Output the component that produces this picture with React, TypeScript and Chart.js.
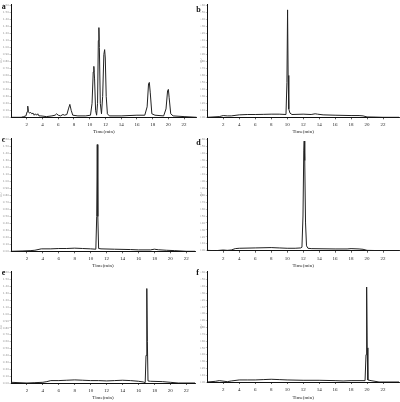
import React, { useEffect, useRef } from 'react';
import { Chart, registerables } from 'chart.js';

Chart.register(...registerables);

type Pt = [number, number];

// Chromatogram traces: [time (min), signal]
const sampleA: Pt[] = [
  [0, 0.0], [1.3, 0.0], [1.6, 0.01], [1.9, 0.02], [2.05, 0.08], [2.13, 0.16], [2.22, 0.08],
  [2.35, 0.06], [2.5, 0.07], [2.65, 0.05], [2.8, 0.06], [2.95, 0.03], [3.1, 0.05], [3.25, 0.03],
  [3.4, 0.05], [3.55, 0.02], [3.8, 0.02], [4.5, 0.01], [5.2, 0.02], [5.6, 0.03], [5.8, 0.05],
  [6.0, 0.03], [6.3, 0.02], [6.6, 0.04], [6.8, 0.03], [7.1, 0.04], [7.3, 0.12], [7.48, 0.185],
  [7.65, 0.1], [7.85, 0.03], [8.5, 0.02], [9.5, 0.02], [10.1, 0.03], [10.3, 0.2], [10.45, 0.65],
  [10.53, 0.73], [10.62, 0.55], [10.75, 0.1], [10.88, 0.03], [11.0, 0.2], [11.1, 1.1], [11.17, 1.286],
  [11.23, 1.0], [11.35, 0.2], [11.5, 0.05], [11.65, 0.3], [11.8, 0.9], [11.9, 0.97], [11.98, 0.85],
  [12.1, 0.3], [12.25, 0.05], [12.5, 0.02], [14, 0.02], [16, 0.03], [17.0, 0.03], [17.3, 0.15],
  [17.48, 0.48], [17.58, 0.5], [17.7, 0.35], [17.9, 0.05], [18.3, 0.03], [19.4, 0.02], [19.7, 0.12],
  [19.9, 0.38], [20.0, 0.4], [20.1, 0.28], [20.3, 0.05], [20.6, 0.02], [22, 0.01], [23.6, 0.0],
];

const sampleB: Pt[] = [
  [0, 0.0], [1.5, 0.01], [2, 0.025], [2.5, 0.02], [3, 0.02], [4, 0.035], [5, 0.04], [6, 0.04],
  [7, 0.042], [8, 0.045], [9, 0.045], [9.85, 0.04], [9.97, 0.5], [10.05, 1.54], [10.12, 0.6],
  [10.2, 0.12], [10.35, 0.06], [10.6, 0.04], [12, 0.045], [13, 0.04], [13.5, 0.05], [13.8, 0.045],
  [14.5, 0.035], [16, 0.03], [18, 0.025], [19, 0.025], [19.5, 0.02], [20, 0.005], [21, 0.003],
  [22, 0.0], [24, 0.0],
];

const sampleC: Pt[] = [
  [0, 0.0], [1.5, 0.005], [2.5, 0.01], [3, 0.015], [3.8, 0.035], [5, 0.035], [6, 0.04], [7, 0.04],
  [8, 0.045], [9, 0.04], [10, 0.035], [10.65, 0.03], [10.76, 0.5], [10.83, 1.53], [10.9, 0.5],
  [11.0, 0.04], [11.3, 0.035], [13, 0.03], [15, 0.025], [16, 0.02], [17.5, 0.02], [18, 0.03],
  [18.5, 0.022], [19.5, 0.015], [20.5, 0.01], [22, 0.0], [23.6, 0.0],
];

const sampleD: Pt[] = [
  [0, 0.005], [1, 0.0], [2, 0.01], [2.5, 0.005], [3, 0.01], [3.5, 0.03], [4, 0.035], [6, 0.04],
  [8, 0.045], [9, 0.04], [10, 0.035], [11, 0.035], [11.7, 0.04], [11.85, 0.05], [11.98, 0.5],
  [12.08, 1.45], [12.13, 1.58], [12.2, 1.3], [12.3, 0.4], [12.42, 0.07], [12.6, 0.035], [13, 0.03],
  [16, 0.025], [17.5, 0.025], [18, 0.03], [19, 0.025], [19.5, 0.02], [20, 0.005], [22, 0.0], [24, 0.0],
];

const sampleE: Pt[] = [
  [0, 0.01], [2, 0.0], [3, 0.005], [4, 0.01], [4.5, 0.02], [5, 0.035], [6, 0.035], [7, 0.04],
  [8, 0.045], [9, 0.04], [10, 0.035], [11, 0.035], [12, 0.03], [13, 0.035], [14, 0.04], [15, 0.035],
  [16, 0.025], [16.6, 0.015], [16.85, 0.005], [16.95, 0.4], [17.05, 1.37], [17.12, 0.6], [17.2, 0.03],
  [17.5, 0.025], [19, 0.02], [20, 0.01], [21, 0.0], [23.6, 0.0],
];

const sampleF: Pt[] = [
  [0, 0.0], [1, 0.01], [1.5, 0.02], [2.5, 0.005], [3, 0.015], [4, 0.03], [5, 0.03], [6, 0.03],
  [7, 0.035], [8, 0.04], [9, 0.035], [10, 0.03], [12, 0.025], [14, 0.025], [16, 0.02], [17, 0.015],
  [18, 0.02], [19.75, 0.02], [19.87, 0.4], [19.95, 1.39], [20.02, 0.5], [20.1, 0.03], [20.5, 0.02],
  [21.5, 0.0], [24, 0.0],
];

const xTickValues = [2, 4, 6, 8, 10, 12, 14, 16, 18, 20, 22];
const yTickValues = [0, 0.1, 0.2, 0.3, 0.4, 0.5, 0.6, 0.7, 0.8, 0.9, 1.0, 1.1, 1.2, 1.3, 1.4, 1.5, 1.6];
const xTitle = 'Time(min)';
const yTitle = 'AU';

// Layout (page coordinates)
const panels = [
  { label: 'a', data: sampleA, xMax: 23.6, left: 0, top: 0, plotL: 11, plotR: 196.7, plotT: 4.3, plotB: 117.3, labX: 1.7, labY: 2.6 },
  { label: 'b', data: sampleB, xMax: 24, left: 200, top: 0, plotL: 207.3, plotR: 399, plotT: 4.3, plotB: 117.3, labX: 196.3, labY: 6 },
  { label: 'c', data: sampleC, xMax: 23.1, left: 0, top: 134, plotL: 11, plotR: 195, plotT: 138.3, plotB: 251.3, labX: 1.7, labY: 136.3 },
  { label: 'd', data: sampleD, xMax: 24, left: 200, top: 134, plotL: 207.3, plotR: 399, plotT: 138.3, plotB: 250.7, labX: 196.3, labY: 139 },
  { label: 'e', data: sampleE, xMax: 23.1, left: 0, top: 268, plotL: 11, plotR: 195, plotT: 271.3, plotB: 383, labX: 1.7, labY: 268.6 },
  { label: 'f', data: sampleF, xMax: 24, left: 200, top: 268, plotL: 207.3, plotR: 399, plotT: 271.3, plotB: 382, labX: 196.3, labY: 268.6 },
];

const CW = 200;
const CH = 134;

function Panel({ p }: { p: (typeof panels)[number] }) {
  const ref = useRef<HTMLCanvasElement | null>(null);
  useEffect(() => {
    if (!ref.current) return;
    const bottomPad = p.top === 268 ? 1.5 : 0;
    const chart = new Chart(ref.current, {
      type: 'line',
      data: {
        datasets: [
          {
            data: p.data.map(([x, y]) => ({ x, y })),
            borderColor: '#222',
            borderWidth: 1,
            pointRadius: 0,
            tension: 0,
            fill: false,
          },
        ],
      },
      options: {
        animation: false,
        responsive: false,
        devicePixelRatio: 1,
        layout: {
          padding: { left: 0, right: CW - (p.plotR - p.left), top: p.plotT - p.top, bottom: bottomPad },
        },
        plugins: { legend: { display: false }, tooltip: { enabled: false } },
        scales: {
          x: {
            type: 'linear',
            min: 0,
            max: p.xMax,
            afterFit: (s: any) => {
              s.height = CH - bottomPad - (p.plotB - p.top);
            },
            afterBuildTicks: (s: any) => {
              s.ticks = xTickValues.map((v) => ({ value: v }));
            },
            ticks: {
              autoSkip: false,
              maxRotation: 0,
              padding: 3,
              color: '#222',
              font: { family: 'Liberation Serif', size: 5, lineHeight: 1 },
              callback: (v: any) => String(v),
            },
            grid: { drawOnChartArea: false, drawTicks: true, tickLength: 2, color: '#333', lineWidth: 0.8 },
            border: { display: true, color: '#111', width: 1 },
            title: {
              display: true,
              text: xTitle,
              color: '#222',
              font: { family: 'Liberation Serif', size: 5, lineHeight: 1 },
              padding: { top: 0, bottom: 0 },
            },
          },
          y: {
            type: 'linear',
            min: 0,
            max: 1.62,
            afterFit: (s: any) => {
              s.width = p.plotL - p.left;
            },
            afterBuildTicks: (s: any) => {
              s.ticks = yTickValues.map((v) => ({ value: v }));
            },
            ticks: {
              autoSkip: false,
              padding: 0.5,
              color: '#999',
              font: { family: 'DejaVu Sans', size: 2.8, lineHeight: 1 },
              callback: (v: any) => Number(v).toFixed(2),
            },
            grid: { drawOnChartArea: false, drawTicks: true, tickLength: 1.5, color: '#999', lineWidth: 0.6 },
            border: { display: true, color: '#111', width: 1 },
            title: {
              display: true,
              text: yTitle,
              color: '#aaa',
              font: { family: 'DejaVu Sans', size: 3, lineHeight: 1 },
              padding: 0,
            },
          },
        },
      },
    });
    return () => chart.destroy();
  }, [p]);
  return (
    <>
      <canvas
        ref={ref}
        width={CW}
        height={CH}
        style={{ position: 'absolute', left: p.left, top: p.top, width: CW, height: CH }}
      />
      <div
        style={{
          position: 'absolute',
          left: p.labX,
          top: p.labY,
          fontFamily: 'Liberation Serif',
          fontWeight: 'bold',
          fontSize: 8,
          lineHeight: 1,
          color: '#111',
        }}
      >
        {p.label}
      </div>
    </>
  );
}

export default function App() {
  return (
    <div style={{ position: 'fixed', left: 0, top: 0, width: 400, height: 402, background: '#fff', overflow: 'hidden' }}>
      {panels.map((p) => (
        <Panel key={p.label} p={p} />
      ))}
    </div>
  );
}
